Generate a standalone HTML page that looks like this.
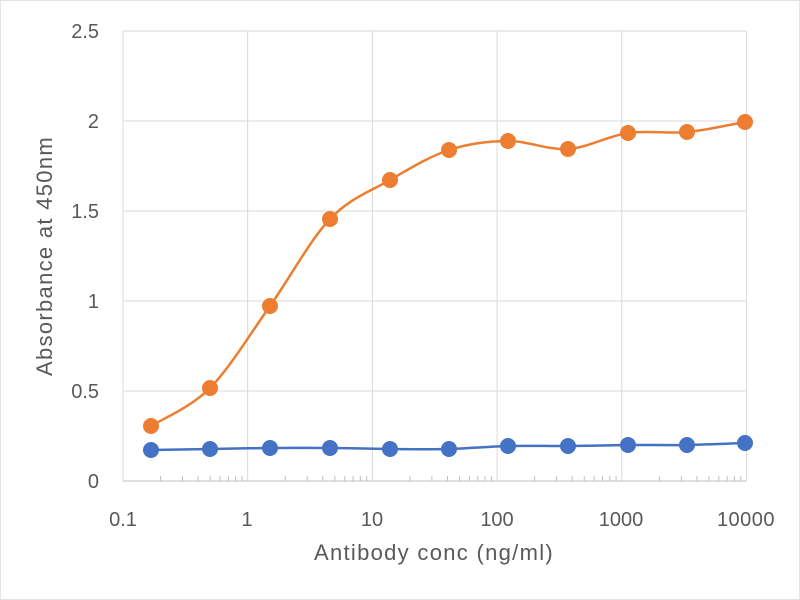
<!DOCTYPE html>
<html><head><meta charset="utf-8"><style>
html,body{margin:0;padding:0;background:#fff;}
svg{display:block;font-family:"Liberation Sans",sans-serif;}
</style></head><body>
<svg id="s" width="800" height="600" viewBox="0 0 800 600">
<rect x="0.5" y="0.5" width="799" height="599" fill="#fff" stroke="#e4e4e4"/>
<g id="grid" stroke="#d9d9d9" stroke-width="1"></g>
<g id="ticks" stroke="#bfbfbf" stroke-width="1"></g>
<g fill="#595959" font-size="20">
<text x="99" y="38" text-anchor="end">2.5</text>
<text x="99" y="128" text-anchor="end">2</text>
<text x="99" y="218" text-anchor="end">1.5</text>
<text x="99" y="308" text-anchor="end">1</text>
<text x="99" y="398" text-anchor="end">0.5</text>
<text x="99" y="488" text-anchor="end">0</text>
<text x="123" y="526" text-anchor="middle">0.1</text>
<text x="247" y="526" text-anchor="middle">1</text>
<text x="372" y="526" text-anchor="middle">10</text>
<text x="497" y="526" text-anchor="middle">100</text>
<text x="621" y="526" text-anchor="middle">1000</text>
<text x="746" y="526" text-anchor="middle" letter-spacing="0.5">10000</text>
<text x="434" y="560" text-anchor="middle" font-size="22" letter-spacing="1.3">Antibody conc (ng/ml)</text>
<text transform="translate(52,256) rotate(-90)" text-anchor="middle" font-size="22" letter-spacing="1.3">Absorbance at 450nm</text>
</g>
<g id="series"></g>
</svg>
<script>
var ns="http://www.w3.org/2000/svg";
function el(p,t,a){var e=document.createElementNS(ns,t);for(var k in a)e.setAttribute(k,a[k]);document.getElementById(p).appendChild(e);return e;}
var x0=123,dec=124.7,yb=481,yt=31;
for(var i=0;i<=5;i++){var x=x0+i*dec;el("grid","line",{x1:x,x2:x,y1:yt,y2:yb});}
for(var j=0;j<5;j++){var y=yt+j*90;el("grid","line",{x1:x0,x2:x0+5*dec,y1:y,y2:y});}
el("ticks","line",{x1:x0,x2:x0+5*dec,y1:yb,y2:yb});
for(var i=0;i<5;i++)for(var m=2;m<=9;m++){var x=x0+(i+Math.log10(m))*dec;el("ticks","line",{x1:x,x2:x,y1:yb,y2:yb-5});}
var xs=[151,210,270,330,390,449,508,568,628,687,745];
var o=[426,388,306,219,180,150,141,149,133,132,122];
var b=[450,449,448,448,449,449,446,446,445,445,443];
function path(ys){var d="M"+xs[0]+","+ys[0];for(var i=0;i<xs.length-1;i++){var p0=[xs[Math.max(i-1,0)],ys[Math.max(i-1,0)]],p1=[xs[i],ys[i]],p2=[xs[i+1],ys[i+1]],p3=[xs[Math.min(i+2,xs.length-1)],ys[Math.min(i+2,xs.length-1)]];var c1=[p1[0]+(p2[0]-p0[0])/6,p1[1]+(p2[1]-p0[1])/6],c2=[p2[0]-(p3[0]-p1[0])/6,p2[1]-(p3[1]-p1[1])/6];d+=" C"+c1+" "+c2+" "+p2;}return d;}
el("series","path",{d:path(o),fill:"none",stroke:"#ed7d31","stroke-width":2.5});
el("series","path",{d:path(b),fill:"none",stroke:"#4472c4","stroke-width":2.5});
for(var i=0;i<xs.length;i++){el("series","circle",{cx:xs[i],cy:o[i],r:8,fill:"#ed7d31"});el("series","circle",{cx:xs[i],cy:b[i],r:8,fill:"#4472c4"});}
</script>
</body></html>
